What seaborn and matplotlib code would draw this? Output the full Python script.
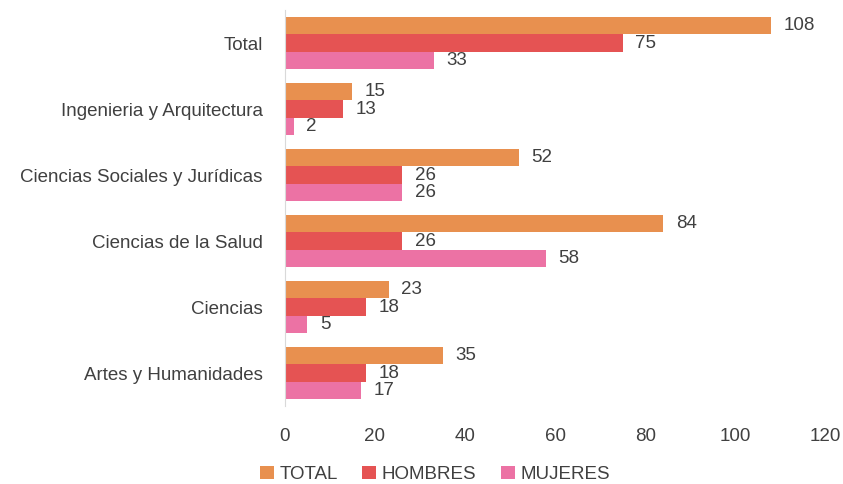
import pandas as pd
import matplotlib.pyplot as plt
import seaborn as sns

# datos
categorias = ['Total', 'Ingenieria y Arquitectura', 'Ciencias Sociales y Jurídicas',
              'Ciencias de la Salud', 'Ciencias', 'Artes y Humanidades']
total = [108, 15, 52, 84, 23, 35]
hombres = [75, 13, 26, 26, 18, 18]
mujeres = [33, 2, 26, 58, 5, 17]
series = ['TOTAL', 'HOMBRES', 'MUJERES']
colores = ['#E8904F', '#E55353', '#EC72A4']

df = pd.DataFrame({'categoria': categorias, 'TOTAL': total,
                   'HOMBRES': hombres, 'MUJERES': mujeres})
largo = df.melt(id_vars='categoria', value_vars=series,
                var_name='serie', value_name='valor')

sns.set_style('white')
plt.rcParams['font.family'] = ['Liberation Sans', 'DejaVu Sans']
gris = '#404040'

fig = plt.figure(figsize=(8.43, 4.84), dpi=100)
ax = fig.add_axes([0.338, 0.161, 0.641, 0.818])

sns.barplot(data=largo, y='categoria', x='valor', hue='serie', order=categorias,
            hue_order=series, palette=colores, orient='h', width=0.79,
            saturation=1, linewidth=0, ax=ax)

for cont in ax.containers:
    ax.bar_label(cont, padding=9, fontsize=13.5, color=gris)

ax.set_xlim(0, 120)
ax.set_xticks(range(0, 121, 20))
ax.set_xlabel('')
ax.set_ylabel('')
ax.tick_params(axis='both', length=0, labelsize=13.5, colors=gris)
ax.tick_params(axis='x', pad=16)
ax.tick_params(axis='y', pad=16)
for lado in ['top', 'right', 'bottom']:
    ax.spines[lado].set_visible(False)
ax.spines['left'].set_color('#D9D9D9')

ax.get_legend().remove()
handles, labels = ax.get_legend_handles_labels()
fig.legend(handles, labels, loc='lower center', bbox_to_anchor=(0.516, -0.033), ncol=3,
           frameon=False, fontsize=13.5, handlelength=0.75, handleheight=0.75,
           handletextpad=0.3, columnspacing=1.3, labelcolor=gris)

fig.savefig('out.png', dpi=100)
